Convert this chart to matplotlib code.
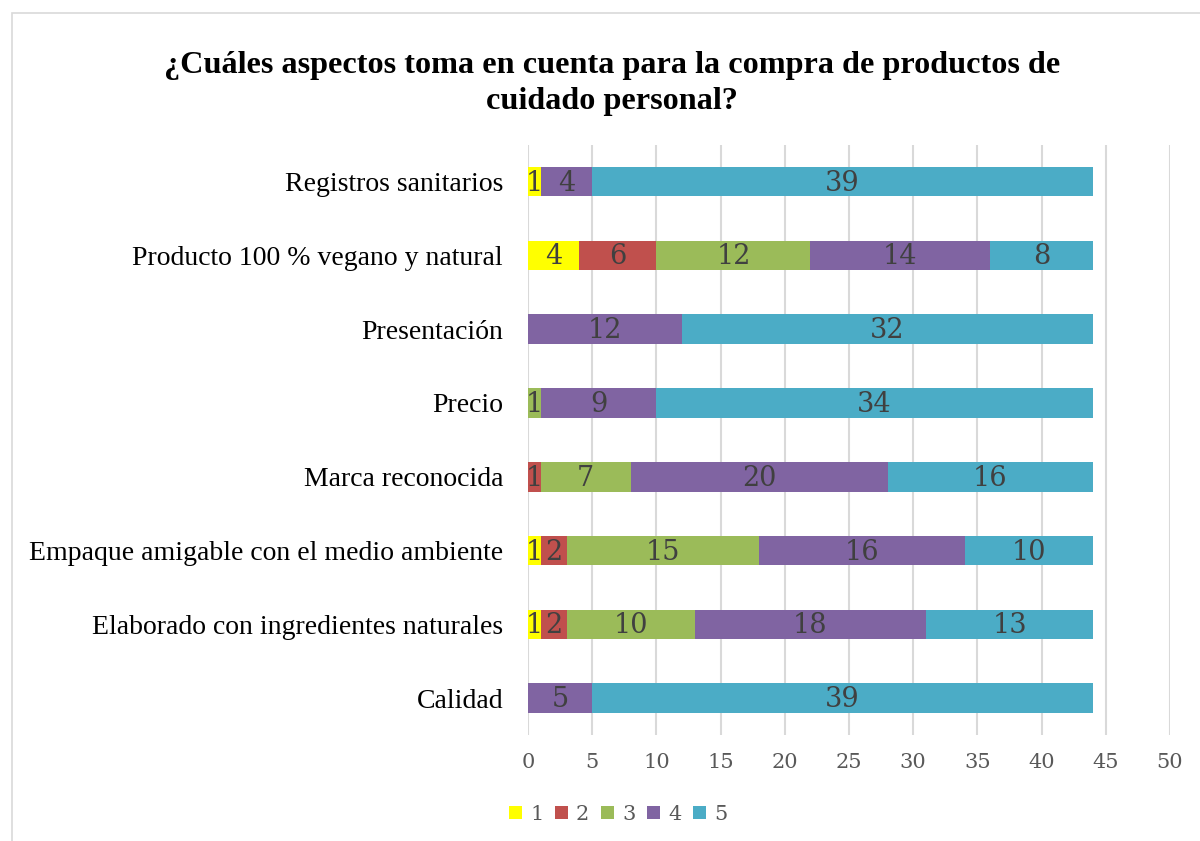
import numpy as np
import matplotlib.pyplot as plt
from matplotlib.patches import Rectangle

categorias = ["Calidad",
              "Elaborado con ingredientes naturales",
              "Empaque amigable con el medio ambiente",
              "Marca reconocida",
              "Precio",
              "Presentación",
              "Producto 100 % vegano y natural",
              "Registros sanitarios"]
serie_1 = [0, 1, 1, 0, 0, 0, 4, 1]
serie_2 = [0, 2, 2, 1, 0, 0, 6, 0]
serie_3 = [0, 10, 15, 7, 1, 0, 12, 0]
serie_4 = [5, 18, 16, 20, 9, 12, 14, 4]
serie_5 = [39, 13, 10, 16, 34, 32, 8, 39]
nombres = ["1", "2", "3", "4", "5"]
colores = ["#FFFF00", "#C0504D", "#9BBB59", "#8064A2", "#4BACC6"]

series = [serie_1, serie_2, serie_3, serie_4, serie_5]

fig = plt.figure(figsize=(12, 8.41), dpi=100)
ax = fig.add_axes([0.44, 0.126, 0.535, 0.702])

y = np.arange(len(categorias))
izq = np.zeros(len(categorias))
for vals, nom, col in zip(series, nombres, colores):
    vals = np.array(vals, dtype=float)
    bars = ax.barh(y, vals, left=izq, height=0.4, color=col, label=nom, zorder=3)
    for b, v in zip(bars, vals):
        if v > 0:
            ax.text(b.get_x() + b.get_width() / 2, b.get_y() + b.get_height() / 2 - 0.02,
                    str(int(v)), ha="center", va="center", fontsize=19.5,
                    color="#404040", family="DejaVu Serif", zorder=4)
    izq += vals

ax.set_xlim(0, 50)
ax.set_ylim(-0.5, len(categorias) - 0.5)
ax.set_xticks(range(0, 51, 5))
ax.set_yticks(y)
ax.set_yticklabels(categorias, family="Liberation Serif", fontsize=20, color="black")
for t in ax.get_xticklabels():
    t.set_family("DejaVu Serif")
    t.set_fontsize(15)
    t.set_color("#595959")
ax.tick_params(axis="x", length=0, pad=13)
ax.tick_params(axis="y", length=0, pad=18)
ax.grid(axis="x", color="#D9D9D9", lw=1.5, zorder=0)
for s in ax.spines.values():
    s.set_visible(False)

fig.text(0.51, 0.901, "¿Cuáles aspectos toma en cuenta para la compra de productos de\ncuidado personal?",
         ha="center", va="center", family="Liberation Serif", fontsize=23.2,
         fontweight="bold", linespacing=1.3)

leg = fig.legend(loc="center", bbox_to_anchor=(0.515, 0.032), ncol=5, frameon=False,
                 prop={"family": "DejaVu Serif", "size": 15}, handlelength=0.62,
                 handleheight=0.62, handletextpad=0.4, columnspacing=0.55)
for t in leg.get_texts():
    t.set_color("#595959")

fig.patches.append(Rectangle((0.01, -0.01), 1.0, 0.995, transform=fig.transFigure,
                             fill=False, edgecolor="#D9D9D9", lw=1.2))

fig.savefig("out.png", dpi=100)
